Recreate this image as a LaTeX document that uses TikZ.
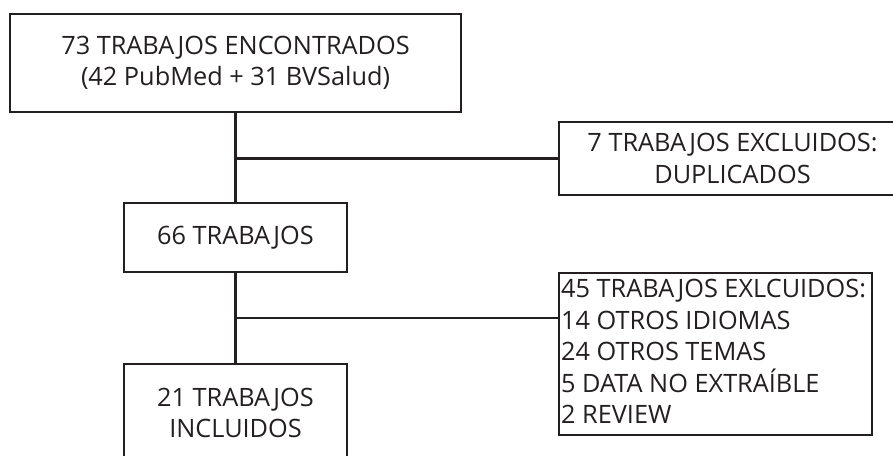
\documentclass[tikz,border=0pt]{standalone}
\usepackage{fontspec}
\setmainfont{Open Sans}
\definecolor{ink}{HTML}{231F20}
\begin{document}
\begin{tikzpicture}[x=1pt,y=-1pt,
  txt/.style={text=ink,inner sep=0pt,font=\fontsize{25.3}{31.5}\selectfont},
  box/.style={draw=ink,line width=2.6pt,txt},
  link/.style={draw=ink,line width=2.6pt}]
\clip (0,0) rectangle (893,455);
\fill[white] (0,0) rectangle (893,455);
\node[box,minimum width=451pt,minimum height=98pt,align=center] (top) at (235.5,63)
  {73 TRABAJOS ENCONTRADOS\\(42 PubMed + 31 BVSalud)};
\node[box,minimum width=347pt,minimum height=73pt,align=center] (exA) at (732.5,158.5)
  {7 TRABAJOS EXCLUIDOS:\\DUPLICADOS};
\node[box,minimum width=223pt,minimum height=69pt] (mid) at (235.5,237.5) {66 TRABAJOS};
\node[box,minimum width=313pt,minimum height=162pt] (exB) at (715.5,354) {};
\node[txt,align=left,anchor=north west] (exBtext) at (561,279)
  {45 TRABAJOS EXLCUIDOS:\\14 OTROS IDIOMAS\\24 OTROS TEMAS\\5 DATA NO EXTRAÍBLE\\2 REVIEW};
\node[box,minimum width=223pt,minimum height=98pt,align=center] (fin) at (235.5,413)
  {21 TRABAJOS\\INCLUIDOS};
\coordinate (lvlB) at (0,318);
\draw[link] (top.south) -- (mid.north);
\draw[link] (top.south |- exA.west) -- (exA.west);
\draw[link] (mid.south) -- (fin.north);
\draw[link] (mid.south |- lvlB) -- (exB.west |- lvlB);
\end{tikzpicture}
\end{document}
